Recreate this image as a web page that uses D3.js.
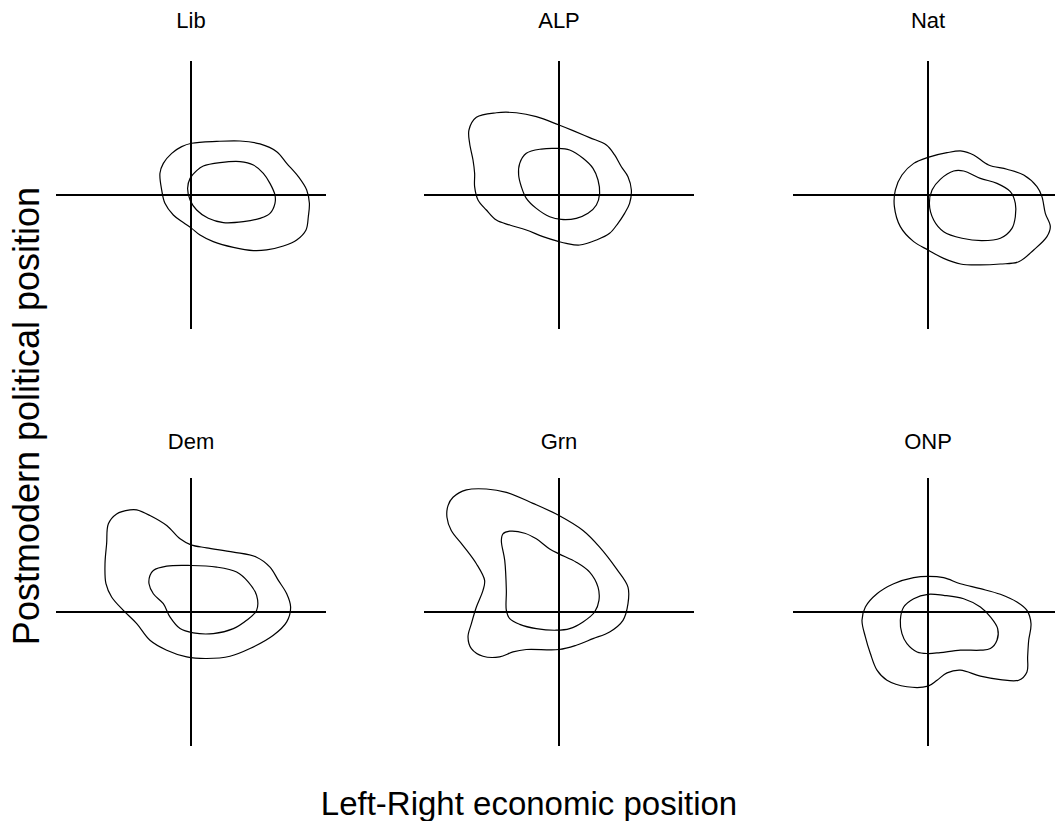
<!DOCTYPE html>
<html>
<head>
<meta charset="utf-8">
<script src="https://cdn.jsdelivr.net/npm/d3@7"></script>
<style>
  html, body { margin: 0; padding: 0; background: #fff; }
  svg { display: block; }
  text { font-family: "Liberation Sans", Arial, sans-serif; fill: #000; }
</style>
</head>
<body>
<svg id="chart" width="1055" height="821"></svg>
<script>
// Panel titles (parties)
const parties = ["Lib", "ALP", "Nat", "Dem", "Grn", "ONP"];
const xLabel = "Left-Right economic position";
const yLabel = "Postmodern political position";

// Density contours (outer = lower level, inner = higher level), [x, y] on a -1..1 scale
const libOuter = [[0.005,0.386],[0.19,0.40],[0.363,0.403],[0.511,0.381],[0.635,0.323],[0.709,0.236],[0.795,0.137],[0.857,0.037],[0.877,-0.062],[0.869,-0.162],[0.852,-0.261],[0.783,-0.336],[0.684,-0.381],[0.560,-0.410],[0.462,-0.415],[0.314,-0.391],[0.165,-0.348],[0.067,-0.299],[0.005,-0.249],[-0.057,-0.206],[-0.131,-0.149],[-0.193,-0.062],[-0.217,0.037],[-0.230,0.162],[-0.205,0.236],[-0.143,0.311],[-0.069,0.361]];
const libInner = [[0.091,0.216],[0.215,0.241],[0.363,0.249],[0.462,0.224],[0.536,0.162],[0.585,0.087],[0.622,0],[0.622,-0.062],[0.585,-0.137],[0.511,-0.174],[0.388,-0.199],[0.240,-0.206],[0.128,-0.174],[0.042,-0.112],[-0.007,-0.037],[-0.025,0.050],[-0.007,0.124],[0.042,0.182]];

const alpOuter = [[-0.612,0.580],[-0.464,0.614],[-0.316,0.614],[-0.168,0.585],[0,0.522],[0.104,0.480],[0.227,0.428],[0.351,0.373],[0.412,0.299],[0.462,0.211],[0.511,0.137],[0.536,0.037],[0.523,-0.062],[0.486,-0.137],[0.437,-0.211],[0.375,-0.286],[0.277,-0.336],[0.153,-0.373],[0.054,-0.361],[0,-0.348],[-0.119,-0.311],[-0.242,-0.261],[-0.365,-0.224],[-0.464,-0.187],[-0.538,-0.112],[-0.600,-0.037],[-0.625,0.062],[-0.625,0.162],[-0.637,0.261],[-0.662,0.386],[-0.667,0.485]];
const alpInner = [[-0.242,0.311],[-0.131,0.343],[-0.020,0.348],[0.079,0.336],[0.178,0.274],[0.252,0.199],[0.289,0.112],[0.301,0.012],[0.277,-0.075],[0.215,-0.137],[0.128,-0.174],[0.017,-0.182],[-0.069,-0.162],[-0.168,-0.100],[-0.242,-0.025],[-0.279,0.062],[-0.299,0.149],[-0.291,0.236]];

const natOuter = [[0,0.281],[0.141,0.316],[0.252,0.328],[0.338,0.299],[0.449,0.224],[0.585,0.192],[0.709,0.149],[0.807,0.062],[0.844,-0.012],[0.869,-0.137],[0.906,-0.236],[0.881,-0.311],[0.783,-0.410],[0.672,-0.498],[0.536,-0.515],[0.388,-0.522],[0.240,-0.515],[0.116,-0.473],[0,-0.410],[-0.106,-0.348],[-0.205,-0.236],[-0.249,-0.087],[-0.242,0.037],[-0.193,0.149],[-0.106,0.236]];
const natInner = [[0.030,0.037],[0.091,0.117],[0.190,0.179],[0.264,0.179],[0.388,0.124],[0.511,0.087],[0.610,0.025],[0.647,-0.062],[0.647,-0.162],[0.622,-0.249],[0.536,-0.323],[0.400,-0.341],[0.252,-0.323],[0.116,-0.274],[0.042,-0.187],[0.010,-0.062]];

const demOuter = [[-0.551,0.732],[-0.612,0.658],[-0.625,0.509],[-0.637,0.360],[-0.630,0.211],[-0.588,0.112],[-0.501,0.012],[-0.402,-0.087],[-0.304,-0.211],[-0.180,-0.285],[-0.032,-0.335],[0.116,-0.347],[0.289,-0.330],[0.437,-0.273],[0.610,-0.174],[0.709,-0.074],[0.738,0.037],[0.709,0.136],[0.647,0.236],[0.585,0.335],[0.486,0.409],[0.314,0.447],[0.116,0.479],[0,0.501],[-0.081,0.546],[-0.180,0.645],[-0.304,0.720],[-0.402,0.762],[-0.452,0.762]];
const demInner = [[-0.279,0.310],[-0.180,0.342],[0,0.347],[0.190,0.335],[0.338,0.298],[0.425,0.223],[0.486,0.124],[0.486,0.012],[0.412,-0.062],[0.314,-0.124],[0.165,-0.161],[0.017,-0.156],[-0.081,-0.124],[-0.156,-0.037],[-0.205,0.062],[-0.279,0.136],[-0.311,0.211],[-0.304,0.273]];

const grnOuter = [[-0.785,0.856],[-0.686,0.911],[-0.538,0.918],[-0.390,0.893],[-0.193,0.811],[0,0.720],[0.178,0.608],[0.301,0.484],[0.425,0.323],[0.511,0.186],[0.511,0.062],[0.474,-0.062],[0.375,-0.149],[0.252,-0.199],[0.128,-0.248],[0,-0.280],[-0.242,-0.280],[-0.341,-0.298],[-0.440,-0.335],[-0.563,-0.330],[-0.649,-0.273],[-0.674,-0.186],[-0.649,-0.087],[-0.612,0.037],[-0.563,0.161],[-0.551,0.236],[-0.612,0.360],[-0.711,0.496],[-0.798,0.608],[-0.830,0.707],[-0.822,0.794]];
const grnInner = [[-0.365,0.603],[-0.254,0.588],[-0.168,0.546],[-0.069,0.471],[0,0.434],[0.128,0.372],[0.227,0.298],[0.289,0.186],[0.296,0.087],[0.264,0],[0.178,-0.074],[0.079,-0.124],[-0.020,-0.136],[-0.168,-0.124],[-0.291,-0.092],[-0.365,-0.050],[-0.390,0.012],[-0.390,0.161],[-0.402,0.385],[-0.427,0.533],[-0.415,0.583]];

const onpOuter = [[0,0.266],[0.116,0.256],[0.240,0.211],[0.388,0.174],[0.536,0.132],[0.659,0.074],[0.733,0.012],[0.763,-0.087],[0.746,-0.211],[0.738,-0.335],[0.733,-0.447],[0.672,-0.509],[0.536,-0.504],[0.388,-0.479],[0.240,-0.434],[0.141,-0.454],[0.067,-0.509],[0,-0.553],[-0.156,-0.558],[-0.304,-0.509],[-0.378,-0.434],[-0.427,-0.310],[-0.464,-0.186],[-0.489,-0.062],[-0.464,0.037],[-0.378,0.136],[-0.254,0.211],[-0.106,0.256]];
const onpInner = [[0,0.132],[0.116,0.124],[0.264,0.099],[0.388,0.037],[0.462,-0.037],[0.516,-0.124],[0.511,-0.211],[0.462,-0.273],[0.388,-0.285],[0.240,-0.285],[0.091,-0.303],[0,-0.310],[-0.081,-0.298],[-0.156,-0.236],[-0.193,-0.161],[-0.205,-0.062],[-0.180,0.037],[-0.106,0.099]];

const contours = [
  [libOuter, libInner], [alpOuter, alpInner], [natOuter, natInner],
  [demOuter, demInner], [grnOuter, grnInner], [onpOuter, onpInner]
];

// Layout
const svg = d3.select("#chart");
const colCenters = [191, 559, 928];
const rowCenters = [195, 612];
const halfW = 135, halfH = 134;

parties.forEach((p, i) => {
  const cx = colCenters[i % 3], cy = rowCenters[Math.floor(i / 3)];
  const x = d3.scaleLinear().domain([-1, 1]).range([cx - halfW, cx + halfW]);
  const y = d3.scaleLinear().domain([-1, 1]).range([cy + halfH, cy - halfH]);
  const g = svg.append("g");

  g.append("line")
    .attr("x1", x(-1)).attr("x2", x(1)).attr("y1", y(0)).attr("y2", y(0))
    .attr("stroke", "#000").attr("stroke-width", 2);
  g.append("line")
    .attr("x1", x(0)).attr("x2", x(0)).attr("y1", y(-1)).attr("y2", y(1))
    .attr("stroke", "#000").attr("stroke-width", 2);

  const line = d3.line().x(d => x(d[0])).y(d => y(d[1])).curve(d3.curveCatmullRomClosed.alpha(0.5));
  contours[i].forEach(c => {
    g.append("path").attr("d", line(c)).attr("fill", "none")
      .attr("stroke", "#000").attr("stroke-width", 1.2);
  });

  g.append("text")
    .attr("x", cx).attr("y", Math.floor(i / 3) === 0 ? 28 : 449)
    .attr("text-anchor", "middle").attr("font-size", 22)
    .text(p);
});

svg.append("text")
  .attr("x", 529).attr("y", 815)
  .attr("text-anchor", "middle").attr("font-size", 33)
  .text(xLabel);

svg.append("text")
  .attr("transform", "translate(39,416) rotate(-90)")
  .attr("text-anchor", "middle").attr("font-size", 36)
  .text(yLabel);
</script>
</body>
</html>
